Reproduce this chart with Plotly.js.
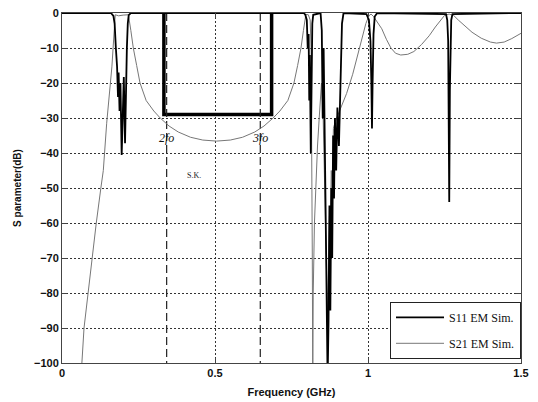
<!DOCTYPE html>
<html>
<head>
<meta charset="utf-8">
<script src="https://cdn.plot.ly/plotly-3.0.1.min.js"></script>
<style>html,body{margin:0;padding:0;background:#fff;}#chart{width:538px;height:402px;}</style>
</head>
<body>
<div id="chart"></div>
<script>
// S11 (EM simulation) – frequency in GHz, magnitude in dB
var s11Freq = [0.000,0.160,0.168,0.172,0.176,0.180,0.183,0.185,0.188,0.191,0.195,0.199,0.202,0.206,0.209,0.212,0.215,0.218,0.225,
  0.500,0.790,0.795,0.800,0.803,0.806,0.808,0.810,0.813,0.816,0.818,0.821,0.845,0.849,0.852,0.855,0.858,0.862,0.866,0.868,0.871,
  0.874,0.877,0.880,0.883,0.886,0.889,0.892,0.896,0.900,0.905,0.910,0.915,0.920,0.995,1.003,1.008,1.011,1.013,1.015,1.018,1.022,
  1.030,1.255,1.259,1.262,1.2635,1.2655,1.2675,1.269,1.272,1.276,1.500];
var s11Db = [0,0,-0.8,-3,-10,-15.4,-24,-17,-28,-20,-40.6,-22,-18.3,-37.2,-20,-10,-3,-0.6,0,
  0,0,-0.5,-2,-10,-6,-25,-12,-40,-20,-3,-0.5,0,-5,-30,-10,-40,-60,-90,-105,-88,
  -55,-85,-50,-70,-35,-53,-30,-45,-27,-38,-15,-3,0,-0.3,-2,-8,-20,-33,-20,-6,-1,
  0,-0.3,-2,-8,-22,-54,-22,-8,-2,-0.3,0];

// S21 (EM simulation)
var s21Freq = [0.060,0.065,0.072,0.085,0.098,0.112,0.127,0.135,0.146,0.163,0.174,0.185,0.200,0.217,0.225,0.233,0.244,0.255,0.275,
  0.300,0.321,0.350,0.380,0.420,0.460,0.505,0.550,0.590,0.630,0.660,0.690,0.712,0.738,0.758,0.770,0.781,0.789,0.797,0.805,0.811,
  0.814,0.816,0.818,0.8195,0.821,0.825,0.829,0.835,0.842,0.848,0.853,0.857,0.861,0.864,0.868,0.871,0.874,0.877,0.880,0.883,
  0.887,0.893,0.900,0.914,0.930,0.950,0.965,0.980,0.993,1.003,1.010,1.018,1.030,1.045,1.060,1.075,1.090,1.107,1.130,1.150,
  1.175,1.200,1.220,1.238,1.250,1.265,1.280,1.295,1.315,1.340,1.370,1.400,1.420,1.445,1.470,1.500];
var s21Db = [-104,-100,-90,-80,-70,-60,-50,-45,-31.5,-15.4,-0.5,-0.8,-0.6,-0.5,-5,-10,-15,-20,-25,
  -28,-30,-32.3,-34,-35.5,-36.3,-36.6,-36.3,-35.5,-34,-32.3,-30,-28,-25,-20,-15,-10,-5,-0.4,-0.5,-2,
  -10,-30,-70,-105,-80,-60,-50,-38,-28,-20,-28,-45,-60,-72,-88,-70,-58,-62,-45,-50,
  -33,-31,-29.5,-27,-23,-17.5,-12.5,-7.5,-3,-0.8,-0.3,-1,-2.5,-4.5,-7.5,-10,-11.5,-12,-11.8,-11,
  -9,-6.5,-4,-2,-0.7,-0.3,-0.7,-2,-3.5,-5.5,-7.2,-8.3,-8.6,-8.3,-7.3,-5.8];

// Stopband specification mask
var maskFreq = [0.333,0.333,0.685,0.685];
var maskDb = [0,-29,-29,0];

// Harmonic markers (2fo, 3fo)
var harmFreq = [0.342,0.648];
var harmLabels = ['2fo','3fo'];
var harmLabelDb = -35.8;

var legendNames = ['S11 EM Sim.','S21 EM Sim.'];
var xTicks = [0,0.5,1,1.5];
var xTickText = ['0','0.5','1','1.5'];
var yTicks = [0,-10,-20,-30,-40,-50,-60,-70,-80,-90,-100];

var traces = [];
traces.push({x:maskFreq,y:maskDb,mode:'lines',line:{color:'#000',width:3.5},showlegend:false,hoverinfo:'skip'});
harmFreq.forEach(function(f){
  traces.push({x:[f,f],y:[0,-100],mode:'lines',line:{color:'#222',width:1.2,dash:'8px,4px'},showlegend:false,hoverinfo:'skip'});
});
traces.push({x:s21Freq,y:s21Db,mode:'lines',name:legendNames[1],legendgroup:'b',legendrank:2,line:{color:'#777',width:1}});
traces.push({x:s11Freq,y:s11Db,mode:'lines',name:legendNames[0],legendgroup:'a',legendrank:1,line:{color:'#000',width:1.8}});

var annotations = harmFreq.map(function(f,i){
  return {x:f,y:harmLabelDb,xref:'x',yref:'y',text:'<i>'+harmLabels[i]+'</i>',showarrow:false,
    font:{family:'Liberation Serif',size:12,color:'#111'},xanchor:'center',yanchor:'middle'};
});
annotations.push({x:0.43,y:-46.3,xref:'x',yref:'y',text:'S.K.',showarrow:false,font:{family:'Liberation Serif',size:8,color:'#222'}});

var axisCommon = {showline:true,linecolor:'#444',linewidth:1,mirror:'ticks',ticks:'inside',ticklen:5,tickcolor:'#444',
  showgrid:true,gridcolor:'#333',gridwidth:1,griddash:'2px,2px',zeroline:false,
  tickfont:{family:'Liberation Sans',size:11,color:'#111',weight:'bold'},automargin:false};

var layout = {
  width:538,height:402,paper_bgcolor:'#fff',plot_bgcolor:'#fff',
  margin:{l:62,r:17,t:13,b:39},
  xaxis:Object.assign({},axisCommon,{range:[0,1.5],tickvals:xTicks,ticktext:xTickText,
    title:{text:'Frequency (GHz)',font:{family:'Liberation Sans',size:11,color:'#111',weight:'bold'},standoff:10}}),
  yaxis:Object.assign({},axisCommon,{range:[-100,0],tickvals:yTicks,
    title:{text:'S parameter(dB)',font:{family:'Liberation Sans',size:10,color:'#111',weight:'bold'},standoff:10}}),
  showlegend:true,
  legend:{x:1,xanchor:'right',y:0.012,yanchor:'bottom',bgcolor:'#fff',bordercolor:'#222',borderwidth:1,
    font:{family:'Liberation Serif',size:12,color:'#111'},itemwidth:48,traceorder:'grouped',tracegroupgap:7},
  annotations:annotations
};

Plotly.newPlot('chart',traces,layout,{staticPlot:true,displayModeBar:false});
</script>
</body>
</html>
